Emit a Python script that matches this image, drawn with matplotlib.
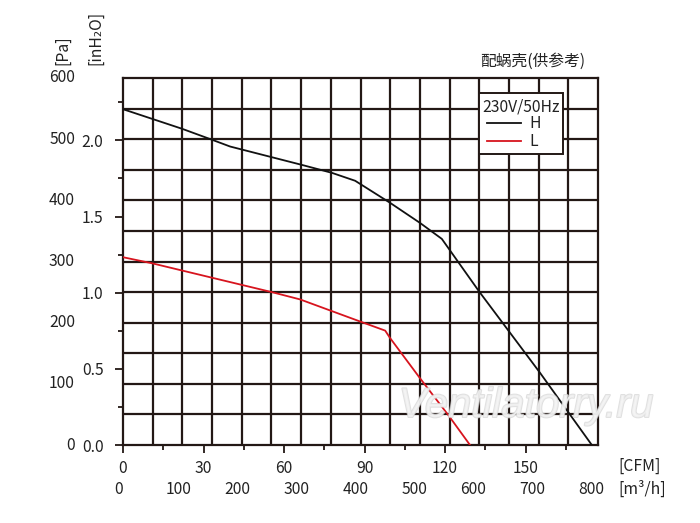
import numpy as np
import matplotlib
matplotlib.use("Agg")
import matplotlib.pyplot as plt
import matplotlib.patheffects as pe
from matplotlib.patches import Rectangle
from matplotlib.lines import Line2D

plt.rcParams['font.family'] = ['Noto Sans CJK SC', 'DejaVu Sans']

# data: airflow in CFM, static pressure in Pa
h_cfm = [0, 22.0, 33.2, 39.9, 66.6, 77.8, 86.5, 99.5, 110.7, 118.8, 132.7, 155.4, 174.7]
h_pa = [549, 517, 499, 488, 458, 445, 432, 396, 363, 337, 251, 118, 0]
l_cfm = [0, 10.9, 55.4, 66.0, 88.3, 97.7, 99.5, 110.7, 121.2, 129.3]
l_pa = [307, 297, 250, 238, 202, 187, 175, 109, 49, 0]

cfm_ticks = [0, 30, 60, 90, 120, 150]
m3h_labels = [0, 100, 200, 300, 400, 500, 600, 700, 800]
pa_labels = [0, 100, 200, 300, 400, 500, 600]
inh2o_labels = [0.0, 0.5, 1.0, 1.5, 2.0]

W, H = 700, 523
FS = 11.3
tc = '#222222'
fig = plt.figure(figsize=(7, 5.23), dpi=100)
ax = fig.add_axes([123 / W, 1 - 445 / H, 475 / W, 367 / H])

XMAX, YMAX = 177.0, 600.0
ax.set_xlim(0, XMAX)
ax.set_ylim(0, YMAX)

gc = '#231815'
for i in range(1, 16):
    ax.axvline(XMAX * i / 16, color=gc, lw=1.6, zorder=1)
for i in range(1, 12):
    ax.axhline(YMAX * i / 12, color=gc, lw=1.6, zorder=1)
for s in ax.spines.values():
    s.set_color(gc)
    s.set_linewidth(1.6)

ax.plot(h_cfm, h_pa, color='#111111', lw=1.3, zorder=3)
ax.plot(l_cfm, l_pa, color='#d7141e', lw=1.3, zorder=3)

# bottom CFM ticks
ax.set_xticks(cfm_ticks)
ax.set_xticks(np.arange(15, 175, 30), minor=True)
ax.tick_params(axis='x', which='major', direction='out', length=6, width=1.3,
               color=gc, labelsize=FS, labelcolor=tc, pad=5)
ax.tick_params(axis='x', which='minor', direction='out', length=3.5, width=1.3, color=gc)

# left inH2O ticks (1 inH2O = 249 Pa)
pa_per_in = 249.0
ax.set_yticks([v * pa_per_in for v in inh2o_labels])
ax.set_yticklabels(['%.1f' % v for v in inh2o_labels])
ax.set_yticks([v * pa_per_in for v in [0.25, 0.75, 1.25, 1.75, 2.25]], minor=True)
ax.tick_params(axis='y', which='major', direction='out', length=6, width=1.3,
               color=gc, labelsize=FS, labelcolor=tc, pad=8)
ax.tick_params(axis='y', which='minor', direction='out', length=3.5, width=1.3, color=gc)

# Pa labels
for p in pa_labels:
    ax.text(-48 / 2.683, p, str(p), ha='right', va='center', fontsize=FS, color=tc)

# m3/h labels
for m in m3h_labels:
    xf = (119 + m * 0.5909 - 123) / 475
    ax.text(xf, -44 / 367, str(m), transform=ax.transAxes, ha='center',
            va='center', fontsize=FS, color=tc)

fig.text(618 / W, 1 - 466 / H, '[CFM]', ha='left', va='center', fontsize=FS, color=tc)
fig.text(618 / W, 1 - 489 / H, '[m³/h]', ha='left', va='center', fontsize=FS, color=tc)
fig.text(63 / W, 1 - 65 / H, '[Pa]', rotation=90, ha='center', va='bottom', fontsize=FS, color=tc)
fig.text(96 / W, 1 - 65 / H, '[inH₂O]', rotation=90, ha='center', va='bottom', fontsize=FS, color=tc)
fig.text(585 / W, 1 - 61 / H, '配蜗壳(供参考)', ha='right', va='center', fontsize=FS, color=tc)

# legend box
fig.add_artist(Rectangle((479 / W, 1 - 154 / H), 84 / W, 61 / H, transform=fig.transFigure,
                         facecolor='white', edgecolor=gc, lw=1.4, zorder=5))
fig.text(521 / W, 1 - 107 / H, '230V/50Hz', ha='center', va='center', fontsize=FS,
         color=tc, zorder=6)
fig.add_artist(Line2D([487 / W, 521 / W], [1 - 123 / H, 1 - 123 / H], transform=fig.transFigure,
                      color='#111111', lw=1.3, zorder=6))
fig.add_artist(Line2D([487 / W, 521 / W], [1 - 141 / H, 1 - 141 / H], transform=fig.transFigure,
                      color='#d7141e', lw=1.3, zorder=6))
fig.text(529 / W, 1 - 123 / H, 'H', ha='left', va='center', fontsize=FS, color=tc, zorder=6)
fig.text(529 / W, 1 - 141 / H, 'L', ha='left', va='center', fontsize=FS, color=tc, zorder=6)

# watermark
fig.text(526 / W, 1 - 406 / H, 'Ventilatorry.ru', ha='center', va='center', fontsize=30,
         family='Liberation Sans', style='italic', color='#f4f4f4', alpha=0.75, zorder=7,
         path_effects=[pe.withStroke(linewidth=1.4, foreground='#d6d6d6')])

fig.savefig('out.png', dpi=100)
